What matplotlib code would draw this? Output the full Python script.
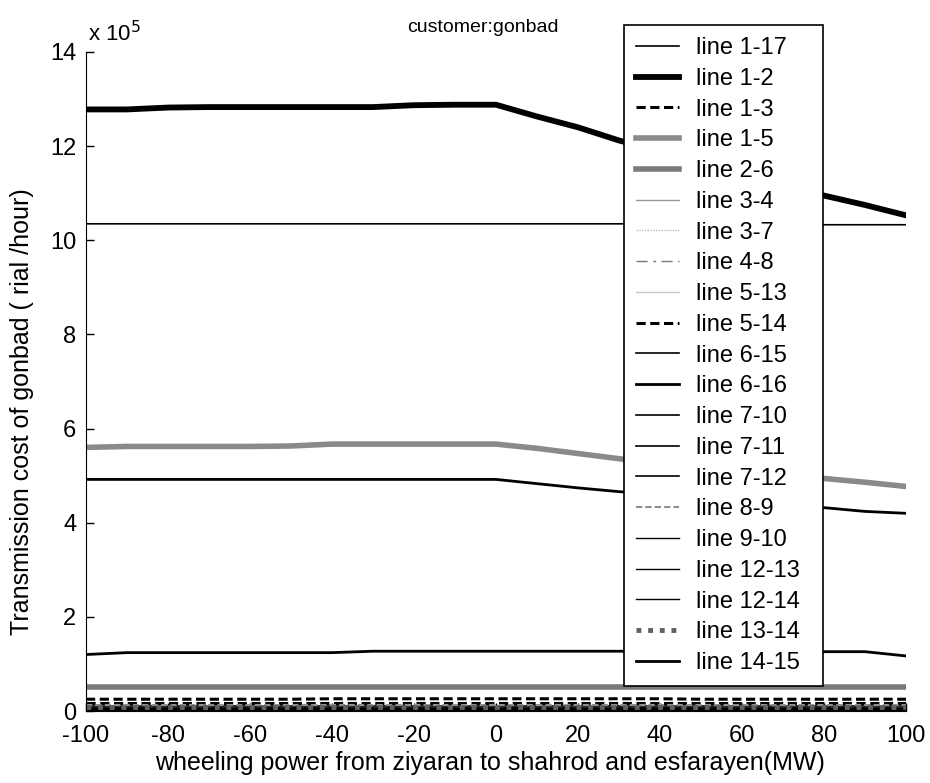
import matplotlib
matplotlib.use("Agg")
import matplotlib.pyplot as plt

plt.rcParams['font.family'] = ['Liberation Sans', 'DejaVu Sans']
plt.rcParams['axes.unicode_minus'] = False

x = [-100, -90, -80, -70, -60, -50, -40, -30, -20, -10, 0, 10, 20, 30, 40, 50, 60, 70, 80, 90, 100]

labels = ["line 1-17", "line 1-2", "line 1-3", "line 1-5", "line 2-6", "line 3-4", "line 3-7",
          "line 4-8", "line 5-13", "line 5-14", "line 6-15", "line 6-16", "line 7-10", "line 7-11",
          "line 7-12", "line 8-9", "line 9-10", "line 12-13", "line 12-14", "line 13-14", "line 14-15"]

line_1_17 = [10.35, 10.35, 10.35, 10.35, 10.35, 10.35, 10.35, 10.35, 10.35, 10.35, 10.35,
             10.35, 10.35, 10.35, 10.35, 10.34, 10.34, 10.34, 10.33, 10.33, 10.33]
line_1_2 = [12.78, 12.78, 12.82, 12.83, 12.83, 12.83, 12.83, 12.83, 12.87, 12.88, 12.88,
            12.63, 12.40, 12.12, 11.90, 11.65, 11.45, 11.20, 10.95, 10.75, 10.53]
line_1_3 = [0.25, 0.25, 0.25, 0.25, 0.25, 0.25, 0.26, 0.26, 0.26, 0.26, 0.26,
            0.26, 0.26, 0.26, 0.26, 0.25, 0.25, 0.25, 0.25, 0.25, 0.25]
line_1_5 = [5.60, 5.62, 5.62, 5.62, 5.62, 5.63, 5.67, 5.67, 5.67, 5.67, 5.67,
            5.58, 5.47, 5.36, 5.25, 5.16, 5.07, 5.00, 4.94, 4.86, 4.77]
line_2_6 = [0.51, 0.51, 0.51, 0.51, 0.51, 0.51, 0.51, 0.51, 0.51, 0.51, 0.51,
            0.51, 0.51, 0.51, 0.51, 0.51, 0.51, 0.51, 0.51, 0.51, 0.51]
line_3_4 = [0.05] * 21
line_3_7 = [0.03] * 21
line_4_8 = [0.08] * 21
line_5_13 = [0.02] * 21
line_5_14 = [0.17] * 21
line_6_15 = [0.10] * 21
line_6_16 = [4.92, 4.92, 4.92, 4.92, 4.92, 4.92, 4.92, 4.92, 4.92, 4.92, 4.92,
             4.83, 4.74, 4.66, 4.60, 4.52, 4.45, 4.38, 4.32, 4.24, 4.20]
line_7_10 = [0.06] * 21
line_7_11 = [0.04] * 21
line_7_12 = [0.05] * 21
line_8_9 = [0.12] * 21
line_9_10 = [0.07] * 21
line_12_13 = [0.03] * 21
line_12_14 = [0.02] * 21
line_13_14 = [0.08] * 21
line_14_15 = [1.20, 1.24, 1.24, 1.24, 1.24, 1.24, 1.24, 1.27, 1.27, 1.27, 1.27,
              1.27, 1.27, 1.27, 1.27, 1.27, 1.27, 1.27, 1.26, 1.26, 1.17]

series = [line_1_17, line_1_2, line_1_3, line_1_5, line_2_6, line_3_4, line_3_7, line_4_8,
          line_5_13, line_5_14, line_6_15, line_6_16, line_7_10, line_7_11, line_7_12, line_8_9,
          line_9_10, line_12_13, line_12_14, line_13_14, line_14_15]

styles = [
    dict(color='black', lw=1.2, ls='-'),
    dict(color='black', lw=4.2, ls='-'),
    dict(color='black', lw=2.2, ls=(0, (3, 1.5))),
    dict(color='#8a8a8a', lw=4.0, ls='-'),
    dict(color='#7a7a7a', lw=4.0, ls='-'),
    dict(color='#9a9a9a', lw=1.0, ls='-'),
    dict(color='#c0c0c0', lw=1.0, ls=(0, (1, 1))),
    dict(color='#777777', lw=1.0, ls=(0, (8, 4, 2, 4))),
    dict(color='#c8c8c8', lw=1.0, ls='-'),
    dict(color='black', lw=2.2, ls=(0, (3, 1.5))),
    dict(color='black', lw=1.2, ls='-'),
    dict(color='black', lw=2.0, ls='-'),
    dict(color='black', lw=1.2, ls='-'),
    dict(color='black', lw=1.2, ls='-'),
    dict(color='black', lw=1.2, ls='-'),
    dict(color='#909090', lw=1.5, ls=(0, (3, 1.5))),
    dict(color='black', lw=1.0, ls='-'),
    dict(color='black', lw=1.0, ls='-'),
    dict(color='black', lw=1.0, ls='-'),
    dict(color='#606060', lw=3.5, ls=(0, (1, 1.4))),
    dict(color='black', lw=2.0, ls='-'),
]

fig = plt.figure(figsize=(9.3, 7.83), dpi=100)
ax = fig.add_axes([86 / 930, 1 - 711 / 783, 820 / 930, 659 / 783])

handles = []
for ys, lab, st in zip(series, labels, styles):
    h, = ax.plot(x, [v * 1e5 for v in ys], label=lab, **st)
    handles.append(h)

ax.set_xlim(-100, 100)
ax.set_ylim(0, 14e5)
ax.set_xticks([-100, -80, -60, -40, -20, 0, 20, 40, 60, 80, 100])
ax.set_yticks([0, 2e5, 4e5, 6e5, 8e5, 10e5, 12e5, 14e5])
ax.set_yticklabels(['0', '2', '4', '6', '8', '10', '12', '14'])
ax.tick_params(direction='in', length=6, width=1, labelsize=17, top=False, right=False)
ax.tick_params(axis='y', pad=7)
ax.tick_params(axis='x', pad=10)
for side in ('top', 'right'):
    ax.spines[side].set_visible(False)

fig.text(88 / 930, 1 - 41 / 783, r'x 10$^{5}$', fontsize=16, ha='left', va='baseline')
fig.text(483 / 930, 1 - 28 / 783, 'customer:gonbad', fontsize=14, ha='center', va='center')
ax.set_xlabel('wheeling power from ziyaran to shahrod and esfarayen(MW)', fontsize=18)
ax.set_ylabel('Transmission cost of gonbad ( rial /hour)', fontsize=18)
ax.xaxis.set_label_coords(0.493, -0.061)
ax.yaxis.set_label_coords(-0.064, 0.455)

leg = ax.legend(handles=handles, loc='upper left',
                bbox_to_anchor=(624 / 930, 1 - 680 / 783, 199 / 930, 655 / 783),
                bbox_transform=fig.transFigure, mode='expand', borderaxespad=0,
                fontsize=17, frameon=True, fancybox=False,
                edgecolor='black', framealpha=1, handlelength=1.8, labelspacing=0.37,
                borderpad=0.52, handletextpad=0.72)
leg.get_frame().set_linewidth(1.2)

fig.savefig('out.png', dpi=100)
